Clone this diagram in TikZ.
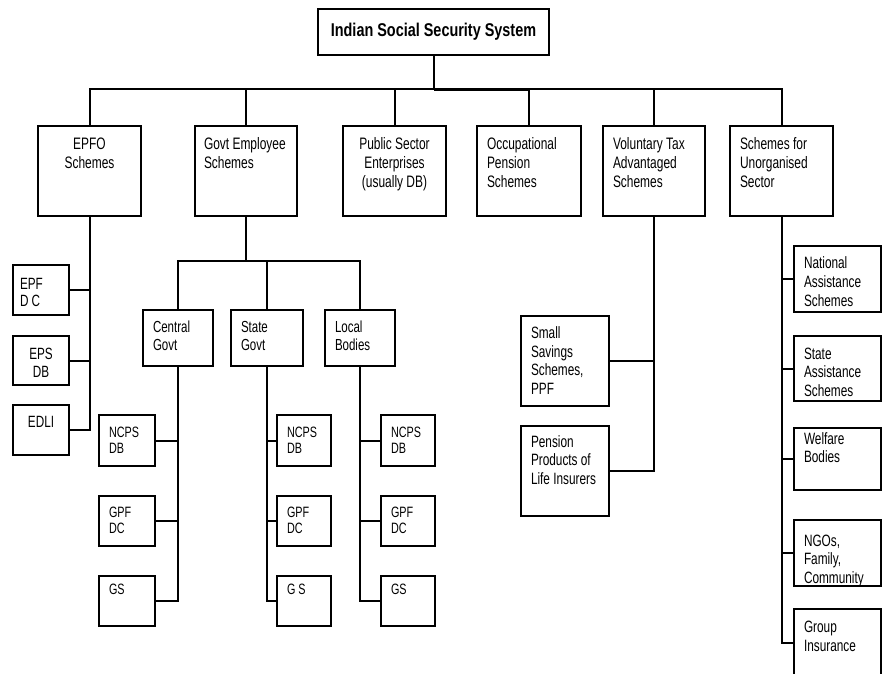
\documentclass[tikz,border=0pt]{standalone}
\usepackage{fontspec}
\setmainfont{Liberation Sans}[FakeStretch=0.72]
\newfontfamily\titlefont{Liberation Sans}[FakeStretch=0.78]
\hyphenpenalty=10000
\exhyphenpenalty=10000
\begin{document}
\begin{tikzpicture}[x=1pt,y=-1pt,
  ln/.style={line width=2pt,line cap=rect},
  bx/.style n args={4}{draw,line width=2pt,anchor=north west,inner ysep=0pt,
     inner xsep=#3,text width={#1-2*#3},text height=#4,text depth={#2-#4},align=flush left},
  ctr/.style={align=flush center},
  fttl/.style={font=\titlefont\bfseries\fontsize{18.5}{21}\selectfont},
  fa/.style={font=\fontsize{16.6}{19}\selectfont},
  fb/.style={font=\fontsize{16}{18}\selectfont},
  fc/.style={font=\fontsize{15}{16}\selectfont},
  fd/.style={font=\fontsize{16.3}{17.7}\selectfont},
  fe/.style={font=\fontsize{16.4}{18.7}\selectfont}]
\useasboundingbox (0,0) rectangle (887,673);
\clip (0,0) rectangle (887,673);

% title
\node[bx={231pt}{46pt}{8pt}{27pt},fttl,ctr] (title) at (317,8) {Indian Social Security System};

% level 2
\node[bx={103pt}{90pt}{10pt}{23pt},fa,ctr] (epfo) at (37,125) {EPFO\\Schemes};
\node[bx={102pt}{90pt}{9pt}{23pt},fa] (govt) at (194,125) {Govt Employee\\Schemes};
\node[bx={103pt}{90pt}{10pt}{23pt},fa,ctr] (pse) at (342,125) {Public Sector\\Enterprises\\(usually DB)};
\node[bx={104pt}{90pt}{10pt}{23pt},fa] (occ) at (476,125) {Occupational\\Pension\\Schemes};
\node[bx={102pt}{90pt}{10pt}{23pt},fa] (vol) at (602,125) {Voluntary Tax\\Advantaged\\Schemes};
\node[bx={103pt}{90pt}{10pt}{23pt},fa] (unorg) at (729,125) {Schemes for\\Unorganised\\Sector};

% EPFO children
\node[bx={56pt}{50pt}{7pt}{24pt},fd] (epf) at (12,264) {EPF\\D C};
\node[bx={56pt}{49pt}{7pt}{23.3pt},fd,ctr] (eps) at (12,335) {EPS\\DB};
\node[bx={56pt}{50pt}{7pt}{22.7pt},fd,ctr] (edli) at (12,404) {EDLI};

% Govt children
\node[bx={70pt}{56pt}{10pt}{22.7pt},fb] (central) at (142,309) {Central\\Govt};
\node[bx={72pt}{56pt}{10pt}{22.7pt},fb] (state) at (230,309) {State\\Govt};
\node[bx={70pt}{56pt}{10pt}{22.7pt},fb] (local) at (324,309) {Local\\Bodies};

% level 4
\node[bx={56pt}{51pt}{10pt}{22pt},fc] (cncps) at (98,414) {NCPS\\DB};
\node[bx={56pt}{50pt}{10pt}{21pt},fc] (cgpf) at (98,495) {GPF\\DC};
\node[bx={56pt}{50pt}{10pt}{18.3pt},fc] (cgs) at (98,575) {GS};
\node[bx={54pt}{51pt}{10pt}{22pt},fc] (sncps) at (276,414) {NCPS\\DB};
\node[bx={54pt}{50pt}{10pt}{21pt},fc] (sgpf) at (276,495) {GPF\\DC};
\node[bx={54pt}{50pt}{10pt}{18.3pt},fc] (sgs) at (276,575) {G S};
\node[bx={54pt}{51pt}{10pt}{22pt},fc] (lncps) at (380,414) {NCPS\\DB};
\node[bx={54pt}{50pt}{10pt}{21pt},fc] (lgpf) at (380,495) {GPF\\DC};
\node[bx={54pt}{50pt}{10pt}{18.3pt},fc] (lgs) at (380,575) {GS};

% Voluntary children
\node[bx={88pt}{90pt}{10pt}{22.3pt},fe] (ssav) at (520,315) {Small\\Savings\\Schemes,\\PPF};
\node[bx={88pt}{90pt}{10pt}{21pt},fe] (pen) at (520,425) {Pension\\Products of\\Life Insurers};

% Unorganised children
\node[bx={87pt}{66pt}{10pt}{22.7pt},fe] (nat) at (793,245) {National\\Assistance\\Schemes};
\node[bx={87pt}{65pt}{10pt}{23pt},fe] (sas) at (793,335) {State\\Assistance\\Schemes};
\node[bx={87pt}{62pt}{10pt}{16pt},fe] (wel) at (793,427) {Welfare\\Bodies};
\node[bx={87pt}{66pt}{10pt}{26pt},fe] (ngo) at (793,519) {NGOs,\\Family,\\Community};
\node[bx={87pt}{68pt}{10pt}{23.7pt},fe] (grp) at (793,608) {Group\\Insurance};

% connectors
\coordinate (busY) at (0,89);
\coordinate (bus) at (title.south |- busY);
\draw[ln] (title.south) -- (bus);
\foreach \n in {epfo,govt,pse,occ,vol,unorg} \draw[ln] (\n.north) |- (bus);
\draw[line width=3.4pt] ([yshift=-0.7pt]bus) -- ([yshift=-0.7pt]occ.north |- bus);

\foreach \n in {epf,eps,edli} \draw[ln] (epfo.south) |- (\n.east);

\coordinate (gY) at (0,261);
\coordinate (gbus) at (govt.south |- gY);
\draw[ln] (govt.south) -- (gbus);
\foreach \n in {central,state,local} \draw[ln] (\n.north) |- (gbus);

\foreach \n in {cncps,cgpf,cgs} \draw[ln] (central.south) |- (\n.east);
\foreach \n in {sncps,sgpf,sgs} \draw[ln] (state.south) |- (\n.west);
\foreach \n in {lncps,lgpf,lgs} \draw[ln] (local.south) |- (\n.west);

\foreach \n in {ssav,pen} \draw[ln] (vol.south) |- (\n.east);
\foreach \n in {nat,sas,wel,ngo,grp} \draw[ln] (unorg.south) |- (\n.west);
\end{tikzpicture}
\end{document}
